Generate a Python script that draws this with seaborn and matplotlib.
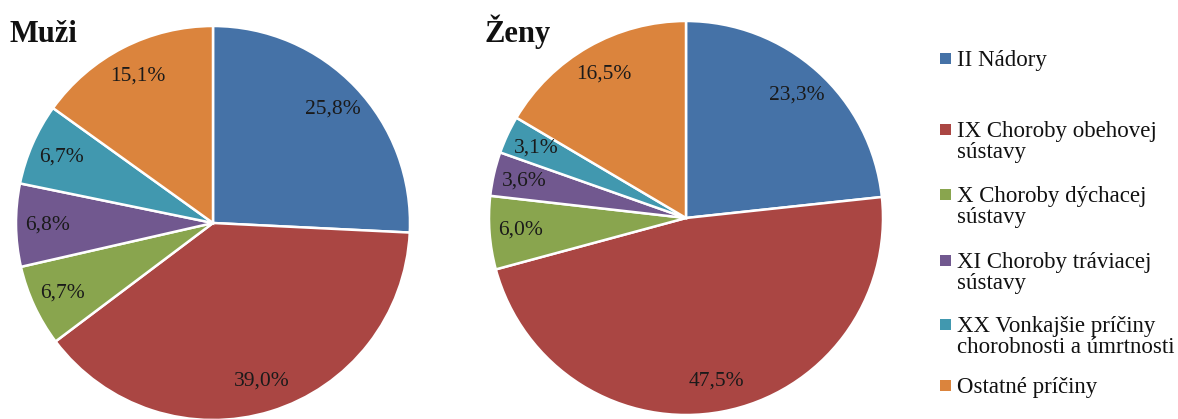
import matplotlib
matplotlib.use("Agg")
import matplotlib.pyplot as plt
import seaborn as sns
from matplotlib.patches import Rectangle

# data
categories = ["II Nádory", "IX Choroby obehovej\nsústavy", "X Choroby dýchacej\nsústavy",
              "XI Choroby tráviacej\nsústavy", "XX Vonkajšie príčiny\nchorobnosti a úmrtnosti",
              "Ostatné príčiny"]
muzi = [25.8, 39.0, 6.7, 6.8, 6.7, 15.1]
zeny = [23.3, 47.5, 6.0, 3.6, 3.1, 16.5]

sns.set_theme(style="white")
plt.rcParams['font.family'] = ['Liberation Serif', 'DejaVu Serif']

colors = sns.color_palette(["#4572A7", "#AA4643", "#89A54E", "#71588F", "#4198AF", "#DB843D"])

W, H = 1178, 419
fig = plt.figure(figsize=(W / 100, H / 100), dpi=100)
R = 197


def pie_panel(cx, cy, values, title, title_x):
    ax = fig.add_axes([(cx - R) / W, (H - cy - R) / H, 2 * R / W, 2 * R / H])
    fmt = iter([f"{v:.1f}%".replace(".", ",") for v in values])
    wedges, texts, autotexts = ax.pie(values, colors=colors, startangle=90, counterclock=False,
                                      autopct=lambda p: next(fmt), pctdistance=0.84,
                                      wedgeprops=dict(edgecolor="white", linewidth=1.8),
                                      textprops=dict(fontsize=15.5, color="#1a1a1a"))
    ax.set_xlim(-1, 1)
    ax.set_ylim(-1, 1)
    ax.set_aspect("equal")
    ax.axis("off")
    fig.text(title_x / W, 1 - 42 / H, title, fontsize=22, fontweight="bold",
             va="baseline", ha="left", color="#111111")


pie_panel(213, 223, muzi, "Muži", 10)
pie_panel(686, 218, zeny, "Ženy", 485)

# legend drawn by hand to match the Excel layout
baselines = [66, 137, 202, 268, 332, 393]
for cat, col, yb in zip(categories, colors, baselines):
    fig.patches.append(Rectangle((940 / W, 1 - (yb - 2) / H), 11 / W, 11 / H,
                                 transform=fig.transFigure, facecolor=col, edgecolor="none"))
    for i, line in enumerate(cat.split("\n")):
        fig.text(957 / W, 1 - (yb + 21 * i) / H, line, fontsize=16.5, va="baseline",
                 ha="left", color="#111111")

fig.savefig("out.png", dpi=100)
